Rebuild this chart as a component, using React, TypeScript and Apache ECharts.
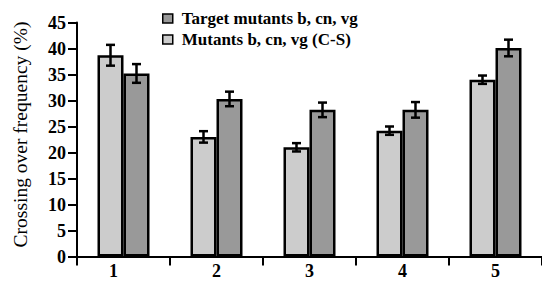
import React, { useEffect, useRef } from "react";
import * as echarts from "echarts";

const categories = ["1", "2", "3", "4", "5"];
const seriesNames = ["Mutants b, cn, vg (C-S)", "Target mutants b, cn, vg"];
const mutantsCS = [38.7, 23.0, 21.0, 24.2, 34.0];
const mutantsCSErr = [2.0, 1.1, 0.8, 0.8, 0.8];
const target = [35.2, 30.3, 28.2, 28.2, 40.1];
const targetErr = [1.8, 1.4, 1.4, 1.5, 1.6];
const yTicks = [0, 45, 5];

const BAR_W = 26;
const FONT = "serif";

export default function App() {
  const ref = useRef<HTMLDivElement>(null);
  useEffect(() => {
    if (!ref.current) return;
    const chart = echarts.init(ref.current, null, { renderer: "svg" });

    const errRender = (offsetSign: number, means: number[], errs: number[]) =>
      (params: any, api: any) => {
        const i = api.value(0);
        const m = means[i];
        const e = errs[i];
        const c = api.coord([i, m]);
        const x = c[0] + offsetSign * (BAR_W / 2);
        const top = api.coord([i, m + e])[1];
        const bot = api.coord([i, m - e])[1];
        const cap = 4.5;
        const st = { stroke: "#000", lineWidth: 2.5, fill: "none" };
        return {
          type: "group",
          children: [
            { type: "line", shape: { x1: x, y1: top, x2: x, y2: bot }, style: st },
            { type: "line", shape: { x1: x - cap, y1: top, x2: x + cap, y2: top }, style: st },
            { type: "line", shape: { x1: x - cap, y1: bot, x2: x + cap, y2: bot }, style: st },
          ],
        };
      };

    chart.setOption({
      animation: false,
      textStyle: { fontFamily: FONT },
      grid: { left: 77, top: 22.5, width: 470, bottom: 25.5, containLabel: false },
      legend: {
        data: [seriesNames[1], seriesNames[0]],
        orient: "vertical",
        left: 157,
        top: 5,
        itemWidth: 10,
        itemHeight: 9,
        itemGap: 4,
        icon: "rect",
        itemStyle: { borderWidth: 1.5, borderColor: "#000" },
        textStyle: {
          fontFamily: FONT,
          fontSize: 17,
          fontWeight: "bold",
          color: "#000",
          padding: [0, 0, 0, 4],
        },
      },
      xAxis: {
        type: "category",
        data: categories,
        axisLine: { lineStyle: { color: "#000", width: 2 } },
        axisTick: { show: true, length: 9, lineStyle: { color: "#000", width: 2 } },
        axisLabel: {
          margin: 5,
          fontFamily: FONT,
          fontSize: 18,
          fontWeight: "bold",
          color: "#000",
          formatter: (v: string, idx: number) => (idx === 0 ? "{a|" + v + "}" : v),
          rich: {
            a: {
              fontFamily: FONT,
              fontSize: 18,
              fontWeight: "bold",
              color: "#000",
              padding: [0, 20, 0, 0],
            },
          },
        },
      },
      yAxis: {
        type: "value",
        min: yTicks[0],
        max: yTicks[1],
        interval: yTicks[2],
        name: "Crossing over frequency (%)",
        nameLocation: "middle",
        nameGap: 47,
        nameTextStyle: { fontFamily: FONT, fontSize: 19.5, color: "#000", padding: [0, 0, 0, 10] },
        splitLine: { show: false },
        axisLine: { show: true, lineStyle: { color: "#000", width: 2 } },
        axisTick: { show: true, length: 9, lineStyle: { color: "#000", width: 2 } },
        axisLabel: {
          margin: 11,
          fontFamily: FONT,
          fontSize: 18,
          fontWeight: "bold",
          color: "#000",
        },
      },
      series: [
        {
          name: seriesNames[0],
          type: "bar",
          data: mutantsCS,
          barWidth: BAR_W,
          barGap: "0%",
          itemStyle: { color: "#cccccc", borderColor: "#000", borderWidth: 2.5 },
        },
        {
          name: seriesNames[1],
          type: "bar",
          data: target,
          barWidth: BAR_W,
          barGap: "0%",
          itemStyle: { color: "#999999", borderColor: "#000", borderWidth: 2.5 },
        },
        {
          type: "custom",
          renderItem: errRender(-1, mutantsCS, mutantsCSErr),
          data: categories.map((_, i) => [i]),
          encode: { x: 0 },
          z: 10,
          silent: true,
        },
        {
          type: "custom",
          renderItem: errRender(1, target, targetErr),
          data: categories.map((_, i) => [i]),
          encode: { x: 0 },
          z: 10,
          silent: true,
        },
      ],
    });
    return () => chart.dispose();
  }, []);
  return <div ref={ref} style={{ width: 542, height: 282, position: "absolute", left: 0, top: 0 }} />;
}
